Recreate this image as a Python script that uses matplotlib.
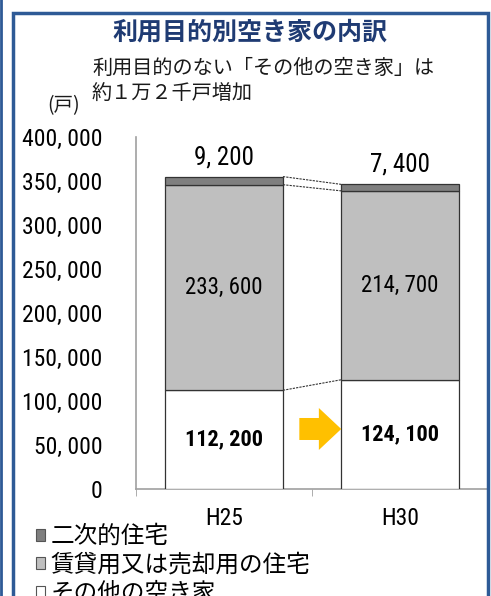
# coding=utf-8
"""
利用目的別空き家の内訳 (stacked bars, H25 vs H30)
"""
import matplotlib
matplotlib.use("Agg")
import matplotlib.pyplot as plt
from matplotlib.patches import Patch, Rectangle, FancyArrow
from matplotlib.lines import Line2D
from matplotlib.ticker import FuncFormatter

plt.rcParams['font.family'] = ['Noto Sans CJK JP', 'DejaVu Sans']

# data
years = ['H25', 'H30']
sonota = [112200, 124100]      # その他の空き家
chintai = [233600, 214700]     # 賃貸用又は売却用の住宅
nijiteki = [9200, 7400]        # 二次的住宅

NUM_FONT = ['Roboto Condensed', 'DejaVu Sans']
c_dark, c_light, c_white = '#7f7f7f', '#bfbfbf', '#ffffff'
edge = '#333333'


def fmt(v):
    return '{:,}'.format(int(v)).replace(',', ', ')


W, H = 491, 596
fig = plt.figure(figsize=(W / 100, H / 100), dpi=100)
ax = fig.add_axes([136 / W, 1 - 489 / H, 352 / W, 352 / H])

x = list(range(len(years)))
bw = 0.67
bottom2 = [a + b for a, b in zip(sonota, chintai)]
totals = [a + b for a, b in zip(bottom2, nijiteki)]

ax.bar(x, sonota, bw, color=c_white, edgecolor=edge, linewidth=0.9, zorder=3)
ax.bar(x, chintai, bw, bottom=sonota, color=c_light, edgecolor=edge, linewidth=0.9, zorder=3)
ax.bar(x, nijiteki, bw, bottom=bottom2, color=c_dark, edgecolor=edge, linewidth=0.9, zorder=3)

# dashed connectors between bars
for lv in (sonota, bottom2, totals):
    ax.plot([x[0] + bw / 2, x[1] - bw / 2], [lv[0], lv[1]], ls=(0, (2, 1)),
            color='#333333', lw=0.8, zorder=2)

# value labels
for i in x:
    ax.text(i, sonota[i] / 2, fmt(sonota[i]), ha='center', va='center',
            fontsize=16, fontweight='bold', family=NUM_FONT, zorder=4)
    ax.text(i, sonota[i] + chintai[i] / 2, fmt(chintai[i]), ha='center', va='center',
            fontsize=16.5, family=NUM_FONT, zorder=4)
    ax.text(i, totals[i] + 22000, fmt(nijiteki[i]), ha='center', va='center',
            fontsize=18, family=NUM_FONT, zorder=4)

# orange arrow
ax.add_patch(FancyArrow(0.428, 68200, 0.238, 0, width=25000, head_width=47700,
                        head_length=0.127, length_includes_head=True,
                        color='#ffc000', lw=0, zorder=4))

ax.set_ylim(0, 400000)
ax.set_xlim(-0.5, -0.5 + 352 / 181)
ax.set_yticks(range(0, 400001, 50000))
ax.yaxis.set_major_formatter(FuncFormatter(lambda v, p: fmt(v)))
ax.tick_params(axis='y', length=0, pad=24, labelsize=17)
for lab in ax.get_yticklabels():
    lab.set_family(NUM_FONT)
ax.set_xticks(x)
ax.set_xticklabels(years, family=NUM_FONT, fontsize=17)
ax.set_xticks([-0.5, 0.5, 1.5], minor=True)
ax.tick_params(axis='x', which='major', length=0, pad=13)
ax.tick_params(axis='x', which='minor', length=5, color='#a0a0a0', direction='out')
for s in ('top', 'right'):
    ax.spines[s].set_visible(False)
for s in ('left', 'bottom'):
    ax.spines[s].set_color('#a0a0a0')
    ax.spines[s].set_linewidth(1.2)

# titles
fig.text(250 / W, 1 - 33 / H, '利用目的別空き家の内訳', ha='center', va='center',
         fontsize=18, fontweight='bold', color='#1f3b73')
fig.text(92 / W, 1 - 68 / H, '利用目的のない「その他の空き家」は', ha='left', va='center',
         fontsize=14.5, color='#1a1a1a')
fig.text(92 / W, 1 - 94 / H, '約１万２千戸増加', ha='left', va='center',
         fontsize=14.5, color='#1a1a1a')
fig.text(47 / W, 1 - 106 / H, '(戸)', ha='left', va='center', fontsize=14, color='#1a1a1a')

# legend
handles = [Patch(facecolor=c_dark, edgecolor='#555555', lw=0.8),
           Patch(facecolor=c_light, edgecolor='#555555', lw=0.8),
           Patch(facecolor=c_white, edgecolor='#555555', lw=0.8)]
labels = ['二次的住宅', '賃貸用又は売却用の住宅', 'その他の空き家']
fig.legend(handles, labels, loc='upper left', bbox_to_anchor=(36 / W, 1 - 525 / H),
           frameon=False, fontsize=17, handlelength=0.4, handleheight=0.4,
           handletextpad=0.2, labelspacing=0.24, borderpad=0, borderaxespad=0)

# frame
fig.add_artist(Rectangle((13 / W, -0.05), 475 / W, 1.05 - 13 / H, transform=fig.transFigure,
                         fill=False, edgecolor='#2e5a96', lw=2.5))
fig.add_artist(Line2D([1 / W, 1 / W], [0, 1], color='#2e5a96', lw=2))

fig.savefig('out.png', dpi=100)
